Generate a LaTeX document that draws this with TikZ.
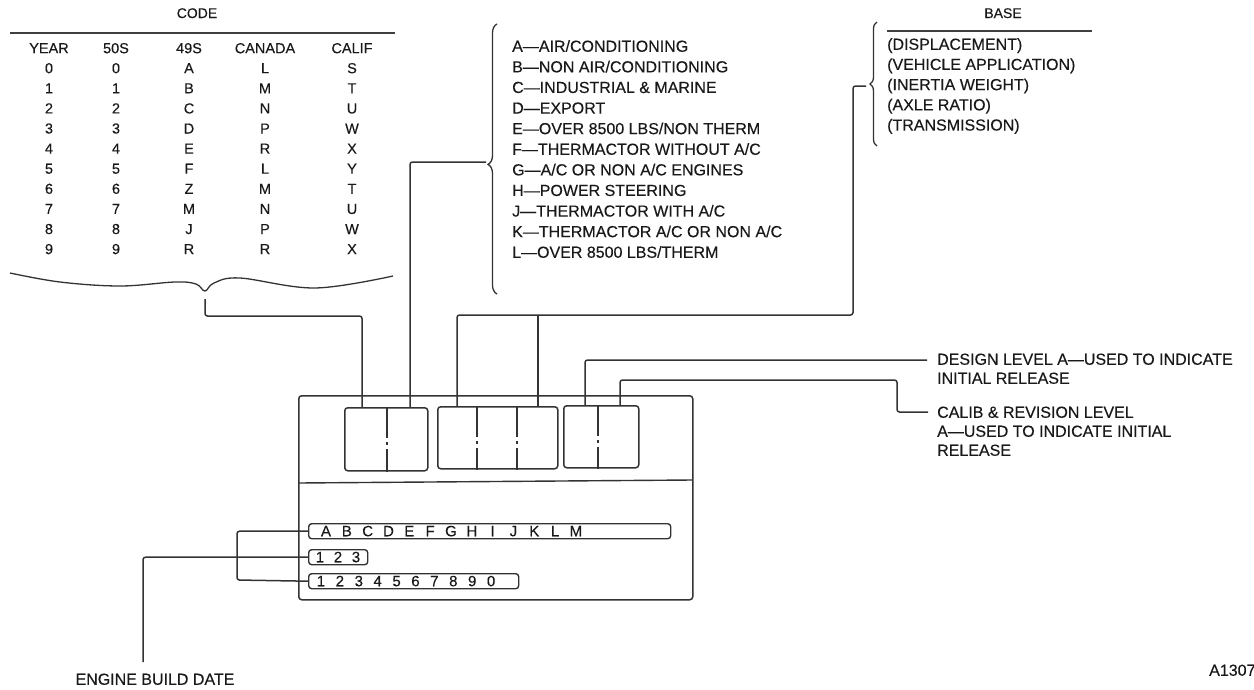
\documentclass[tikz,border=0pt]{standalone}
\usepackage{fontspec}
\setmainfont{Liberation Sans}[FakeBold=0.3]
\usetikzlibrary{calc,decorations.pathreplacing}
\begin{document}
\begin{tikzpicture}[x=1pt,y=-1pt,
  ln/.style={line width=1.5pt, draw=black!80, rounded corners=2.5pt},
  rule/.style={line width=1.2pt, draw=black!75},
  lbl/.style={font=\fontsize{16}{19}\selectfont, inner sep=0pt, text height=11.5pt, text depth=0pt, anchor=west, text=black!90},
  tbl/.style={font=\fontsize{14.5}{17}\selectfont, inner sep=0pt, text height=10.4pt, text depth=0pt, anchor=center, text=black!90},
  ttl/.style={font=\fontsize{14}{16}\selectfont, inner sep=0pt, text height=10pt, text depth=0pt, anchor=center, text=black!90},
  strip/.style={draw=black!80, line width=1.4pt, rounded corners=3pt, inner sep=0pt, anchor=north west},
  box/.style={draw=black!80, line width=1.5pt, rounded corners=3pt, inner sep=0pt, anchor=north west},
  sch/.style={font=\fontsize{15}{17}\selectfont, inner sep=0pt, text height=10.5pt, text depth=0pt, anchor=center, text=black!90},
  divl/.style={line width=1.3pt, draw=black!80, dash pattern=on 31pt off 4pt on 3pt off 4pt on 40pt}
]
\useasboundingbox (0,0) rectangle (1254,689);

% ---------- CODE table ----------
\node[ttl] (code) at (197,13) {CODE};
\draw[rule] (10,33) -- (395,33);
\foreach \h/\x [count=\c] in {YEAR/49,50S/116,49S/189,CANADA/265,CALIF/352}
  \node[tbl] (hdr\c) at (\x,48) {\h};
\foreach \a/\b/\cc/\d/\e [count=\i from 0] in {0/0/A/L/S,1/1/B/M/T,2/2/C/N/U,3/3/D/P/W,4/4/E/R/X,5/5/F/L/Y,6/6/Z/M/T,7/7/M/N/U,8/8/J/P/W,9/9/R/R/X}{
  \node[tbl] (ya\i) at (49,68+20.1*\i) {\a};
  \node[tbl] (fa\i) at (116,68+20.1*\i) {\b};
  \node[tbl] (fn\i) at (189,68+20.1*\i) {\cc};
  \node[tbl] (ca\i) at (265,68+20.1*\i) {\d};
  \node[tbl] (cl\i) at (352,68+20.1*\i) {\e};
}
% wavy brace under table
\draw[line width=1.3pt, draw=black!80] plot[smooth, tension=0.6] coordinates
  {(10,273) (60,282) (120,286) (175,282) (196,284) (205,291) (214,283) (240,278) (315,288) (393,276)};
\coordinate (codetip) at (205,299);

% ---------- option list ----------
\foreach \t [count=\i from 0] in {A---AIR/CONDITIONING, B---NON AIR/CONDITIONING, C---INDUSTRIAL \& MARINE, D---EXPORT, E---OVER 8500 LBS/NON THERM, F---THERMACTOR WITHOUT A/C, G---A/C OR NON A/C ENGINES, H---POWER STEERING, J---THERMACTOR WITH A/C, K---THERMACTOR A/C OR NON A/C, L---OVER 8500 LBS/THERM}
  \node[lbl] (opt\i) at (512,46+20.6*\i) {\t};
\draw[line width=1.3pt, draw=black!80, decorate, decoration={brace, amplitude=9pt, aspect=0.48}] (497,294) -- (497,24);
\coordinate (opttip) at (486,162);

% ---------- BASE ----------
\node[ttl] (base) at (1003,13) {BASE};
\draw[rule] (887,31) -- (1092,31);
\foreach \t [count=\i from 0] in {(DISPLACEMENT), (VEHICLE APPLICATION), (INERTIA WEIGHT), (AXLE RATIO), (TRANSMISSION)}
  \node[lbl] (bs\i) at (887,44+20.2*\i) {\t};
\draw[line width=1.3pt, draw=black!80, decorate, decoration={brace, amplitude=7pt}] (877,146) -- (877,22);
\coordinate (basetip) at (866,86);

% ---------- main plate ----------
\node[box, minimum width=394pt, minimum height=204pt] (plate) at (298,395) {};
\draw[line width=1.4pt, draw=black!80] (298,483) -- (692,480);
\node[box, minimum width=83pt, minimum height=63pt] (box1) at (344,407) {};
\node[box, minimum width=120pt, minimum height=62pt] (box2) at (437,406) {};
\node[box, minimum width=75pt, minimum height=62pt] (box3) at (563,405) {};
\draw[divl] (387,0 |- box1.north) -- (387,0 |- box1.south);
\draw[divl] (477,0 |- box2.north) -- (477,0 |- box2.south);
\draw[divl] (517,0 |- box2.north) -- (517,0 |- box2.south);
\draw[divl] (598,0 |- box3.north) -- (598,0 |- box3.south);

% strips
\node[strip, minimum width=362pt, minimum height=15pt] (s1) at (308,523) {};
\node[strip, minimum width=59pt, minimum height=15pt] (s2) at (308,549) {};
\node[strip, minimum width=210pt, minimum height=15pt] (s3) at (308,573) {};
\foreach \ch [count=\i from 0] in {A,B,C,D,E,F,G,H,I,J,K,L,M}
  \node[sch] (l\i) at (326+20.83*\i, 531) {\ch};
\foreach \ch [count=\i from 0] in {1,2,3}
  \node[sch] (m\i) at (320+18*\i, 557) {\ch};
\foreach \ch [count=\i from 0] in {1,2,3,4,5,6,7,8,9,0}
  \node[sch] (n\i) at (321+18.9*\i, 581) {\ch};

% ---------- connectors ----------
\draw[ln] (codetip) |- (362,316) -- (362,0 |- box1.north);
\draw[ln] (opttip) -| (410,0 |- box1.north);
\draw[ln] (basetip) -- (853,86) |- (457,315) -- (457,0 |- box2.north);
\draw[ln] (538,315) -- (538,0 |- box2.north);

\node[lbl] (design) at (937,359) {DESIGN LEVEL A---USED TO INDICATE};
\node[lbl] (design2) at (937,378) {INITIAL RELEASE};
\coordinate (dend) at (927,360);
\draw[ln] (dend) -| (585,0 |- box3.north);

\node[lbl] (calib) at (937,412) {CALIB \& REVISION LEVEL};
\node[lbl] (calib2) at (937,431) {A---USED TO INDICATE INITIAL};
\node[lbl] (calib3) at (937,450) {RELEASE};
\coordinate (cend) at (928,412);
\draw[ln] (cend) -| (897,380) -| (620,0 |- box3.north);

\coordinate (bd) at (143,662);
\draw[ln] (bd) |- (s2.west);
\draw[ln] (s1.west) -| (237,580) -- (s3.west);

\node[lbl, anchor=center] (ebd) at (155,679) {ENGINE BUILD DATE};
\node[lbl] (ref) at (1209,670) {A1307};
\end{tikzpicture}
\end{document}
